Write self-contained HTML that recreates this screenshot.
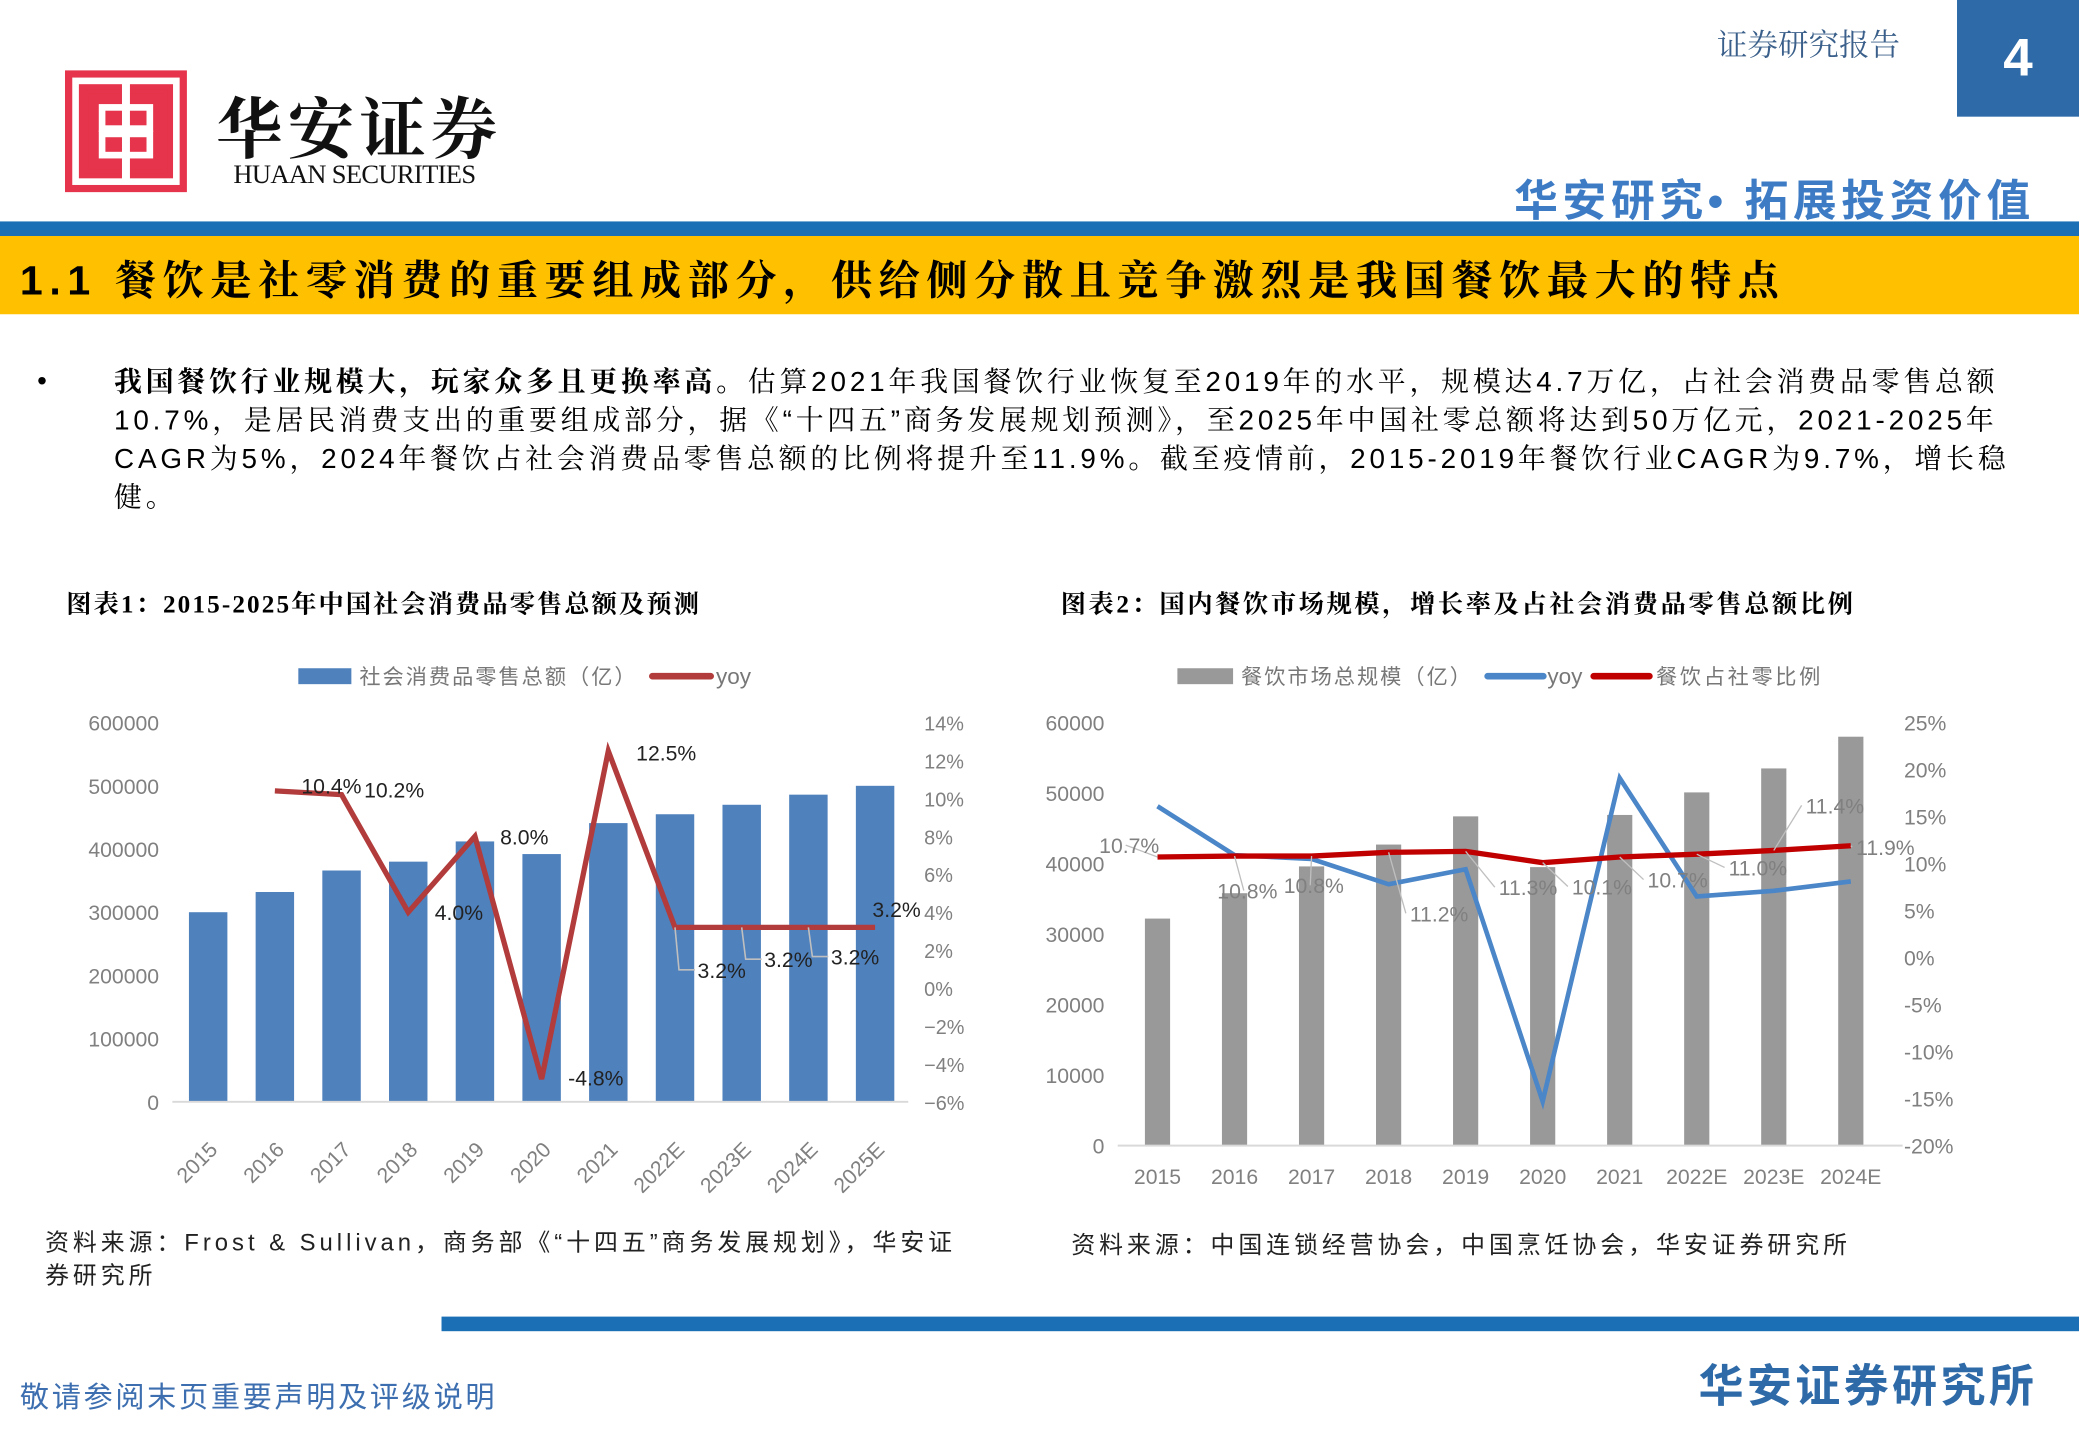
<!DOCTYPE html>
<html><head><meta charset="utf-8">
<style>
html,body{margin:0;padding:0;background:#fff;}
body{width:2079px;height:1439px;overflow:hidden;position:relative;}
#page{position:absolute;left:0;top:0;width:1568px;height:1085px;transform:scale(1.32589);transform-origin:0 0;font-family:"Liberation Sans","Noto Sans CJK SC",sans-serif;}
.abs{position:absolute;white-space:nowrap;}
.serif{font-family:"Liberation Serif","Noto Serif CJK SC",serif;}
</style></head><body>
<div id="page">
  <svg class="abs" style="left:49px;top:53px" width="92" height="92">
    <rect width="92" height="92" fill="#e5344b"/>
    <rect x="8" y="8" width="76" height="76" fill="none" stroke="#fff" stroke-width="5"/>
    <rect x="16" y="16" width="60" height="60" fill="none" stroke="#e5344b" stroke-width="3"/>
    <rect x="28" y="28" width="36" height="16" fill="none" stroke="#fff" stroke-width="5"/>
    <rect x="28" y="48" width="36" height="16" fill="none" stroke="#fff" stroke-width="5"/>
    <rect x="43" y="8" width="6" height="76" fill="#fff"/>
  </svg>
  <div class="abs serif" style="left:163px;top:58px;font-size:50px;font-weight:bold;letter-spacing:4px;color:#111">华安证券</div>
  <div class="abs serif" style="left:176px;top:121px;font-size:20px;color:#111;letter-spacing:-0.5px">HUAAN SECURITIES</div>
  <div class="abs serif" style="left:1295px;top:16px;font-size:23px;color:#3a5f8a">证券研究报告</div>
  <div class="abs" style="left:1476px;top:0;width:92px;height:88px;background:#2e6aa8;color:#fff;font-size:40px;font-weight:bold;text-align:center;line-height:88px">4</div>
  <div class="abs" style="left:1142px;top:125px;font-size:33px;font-weight:bold;color:#3d7bc4;letter-spacing:3.5px">华安研究• 拓展投资价值</div>
  <div class="abs" style="left:0;top:167px;width:1568px;height:11px;background:#1a6fb5"></div>
  <div class="abs" style="left:0;top:178px;width:1568px;height:59px;background:#ffc000"></div>
  <div class="abs" style="left:15px;top:186px;font-size:31px;font-weight:bold;color:#000;letter-spacing:5px;font-family:'Liberation Sans','Noto Serif CJK SC',serif">1.1 餐饮是社零消费的重要组成部分，供给侧分散且竞争激烈是我国餐饮最大的特点</div>
  <div class="abs" style="left:28px;top:276px;font-size:21px;color:#000">•</div>
  <div class="abs" style="left:86px;top:274px;font-size:21px;line-height:29px;color:#000;letter-spacing:2.9px;font-family:'Liberation Sans','Noto Serif CJK SC',serif"><b>我国餐饮行业规模大，玩家众多且更换率高。</b>估算2021年我国餐饮行业恢复至2019年的水平，规模达4.7万亿，占社会消费品零售总额<br>10.7%，是居民消费支出的重要组成部分，据《“十四五”商务发展规划预测》，至2025年中国社零总额将达到50万亿元，2021-2025年<br>CAGR为5%，2024年餐饮占社会消费品零售总额的比例将提升至11.9%。截至疫情前，2015-2019年餐饮行业CAGR为9.7%，增长稳<br>健。</div>

  <div class="abs serif" style="left:50px;top:441px;font-size:19px;font-weight:bold;color:#000;letter-spacing:1.6px">图表1：2015-2025年中国社会消费品零售总额及预测</div>
  <div class="abs serif" style="left:800px;top:441px;font-size:19px;font-weight:bold;color:#000;letter-spacing:2px">图表2：国内餐饮市场规模，增长率及占社会消费品零售总额比例</div>

  <svg id="c1" class="abs" style="left:0;top:0" width="780" height="900"></svg>
  <svg id="c2" class="abs" style="left:0;top:0" width="1568" height="900"></svg>

  <div class="abs" style="left:34px;top:925px;font-size:18px;line-height:25px;color:#222;letter-spacing:3px">资料来源：Frost &amp; Sullivan，商务部《“十四五”商务发展规划》，华安证<br>券研究所</div>
  <div class="abs" style="left:808px;top:925px;font-size:18px;color:#222;letter-spacing:3px">资料来源：中国连锁经营协会，中国烹饪协会，华安证券研究所</div>

  <div class="abs" style="left:333px;top:993px;width:1235px;height:11px;background:#1a6fb5"></div>
  <div class="abs" style="left:15px;top:1036px;font-size:22px;color:#3d6fb0;letter-spacing:2px">敬请参阅末页重要声明及评级说明</div>
  <div class="abs" style="left:1281px;top:1018px;font-size:34px;font-weight:bold;color:#2e6aa8;letter-spacing:2.5px">华安证券研究所</div>
</div>
<script>
const NS='http://www.w3.org/2000/svg';
function mk(p,tag,a,txt){const e=document.createElementNS(NS,tag);for(const k in a)e.setAttribute(k,a[k]);if(txt!==undefined)e.textContent=txt;p.appendChild(e);return e;}

// ---- chart 1 data ----
const c1Cats=['2015','2016','2017','2018','2019','2020','2021','2022E','2023E','2024E','2025E'];
const c1Retail=[300000,332000,366000,380000,412000,392000,441000,455000,470000,486000,500000];
const c1Yoy=[null,10.4,10.2,4.0,8.0,-4.8,12.5,3.2,3.2,3.2,3.2];
const c1LeftTicks=[0,100000,200000,300000,400000,500000,600000];
const c1RightTicks=[-6,-4,-2,0,2,4,6,8,10,12,14];
const c1RightLabels=['−6%','−4%','−2%','0%','2%','4%','6%','8%','10%','12%','14%'];

// ---- chart 2 data ----
const c2Cats=['2015','2016','2017','2018','2019','2020','2021','2022E','2023E','2024E'];
const c2Size=[32200,35800,39600,42700,46700,39500,46900,50100,53500,58000];
const c2Yoy=[16.1,10.9,10.5,7.8,9.4,-15.3,19.1,6.5,7.1,8.1];
const c2Share=[10.7,10.8,10.8,11.2,11.3,10.1,10.7,11.0,11.4,11.9];
const c2LeftTicks=[0,10000,20000,30000,40000,50000,60000];
const c2RightTicks=[-20,-15,-10,-5,0,5,10,15,20,25];

(function(){
  const s=document.getElementById('c1');
  const y0=831,y1=545,x0=157,dx=50.3;
  const yL=v=>y0-(v/600000)*(y0-y1);
  const yR=v=>y0-((v+6)/20)*(y0-y1);
  const xC=i=>x0+i*dx;
  let g=mk(s,'g',{});
  
  
  mk(g,'rect',{x:225,y:504,width:40,height:12,fill:'#4f81bd'});
  mk(g,'text',{x:271,y:516,'font-size':16,fill:'#777','letter-spacing':1.5},'社会消费品零售总额（亿）');
  mk(g,'line',{x1:492,y1:510,x2:536,y2:510,stroke:'#b23b3b','stroke-width':5,'stroke-linecap':'round'});
  mk(g,'text',{x:540,y:516,'font-size':17,fill:'#777'},'yoy');
  c1LeftTicks.forEach(v=>{const t=mk(s,'text',{x:120,y:yL(v)+6,'font-size':16,fill:'#808080','text-anchor':'end'},String(v));
    });
  c1RightTicks.forEach((v,i)=>{const t=mk(s,'text',{x:697,y:yR(v)+6,'font-size':15,fill:'#808080'},c1RightLabels[i]);
    });
  c1Retail.forEach((v,i)=>{const r=mk(s,'rect',{x:xC(i)-14.5,y:yL(v),width:29,height:y0-yL(v),fill:'#4f81bd'});
    });
  mk(s,'line',{x1:130,y1:y0,x2:685,y2:y0,stroke:'#d9d9d9','stroke-width':1.5});
  c1Cats.forEach((c,i)=>{const t=mk(s,'text',{x:xC(i)+8,y:868,'font-size':16,fill:'#808080','text-anchor':'end',transform:`rotate(-45 ${xC(i)+8} 868)`},c);
    });
  let pts=[];c1Yoy.forEach((v,i)=>{if(v!==null)pts.push(xC(i)+','+yR(v));});
  const pl=mk(s,'polyline',{points:pts.join(' '),fill:'none',stroke:'#b23b3b','stroke-width':4,'stroke-linejoin':'miter'});
  
  const off=[null,[20,2],[17,2],[20,6],[19,6],[20,5],[21,7],[0,38],[0,30],[0,28],[0,-8]];
  c1Yoy.forEach((v,i)=>{if(v===null)return;const y=yR(v)+off[i][1];
    let x=xC(i)+off[i][0];
    if(i>=7&&i<=9){mk(s,'polyline',{points:`${xC(i)},${yR(v)} ${xC(i)+3},${y-6} ${xC(i)+15},${y-6}`,fill:'none',stroke:'#bfbfbf','stroke-width':1.2});x=xC(i)+17;}
    if(i==10)x=xC(i)-2;
    const t=mk(s,'text',{x:x,y:y,'font-size':16,fill:'#222'},v.toFixed(1)+'%');
    });
})();

(function(){
  const s=document.getElementById('c2');
  const y0=864,y1=545,x0=873,dx=58.1;
  const yL=v=>y0-(v/60000)*(y0-y1);
  const yR=v=>y0-((v+20)/45)*(y0-y1);
  const xC=i=>x0+i*dx;
  let g=mk(s,'g',{});
  
  
  mk(g,'rect',{x:888,y:504,width:42,height:12,fill:'#999'});
  mk(g,'text',{x:936,y:516,'font-size':16,fill:'#777','letter-spacing':1.5},'餐饮市场总规模（亿）');
  mk(g,'line',{x1:1122,y1:510,x2:1164,y2:510,stroke:'#4a86c8','stroke-width':5,'stroke-linecap':'round'});
  mk(g,'text',{x:1167,y:516,'font-size':17,fill:'#777'},'yoy');
  mk(g,'line',{x1:1202,y1:510,x2:1244,y2:510,stroke:'#c00000','stroke-width':5,'stroke-linecap':'round'});
  mk(g,'text',{x:1249,y:516,'font-size':16,fill:'#777','letter-spacing':2},'餐饮占社零比例');
  c2LeftTicks.forEach(v=>{const t=mk(s,'text',{x:833,y:yL(v)+6,'font-size':16,fill:'#808080','text-anchor':'end'},String(v));
    });
  c2RightTicks.forEach(v=>{const t=mk(s,'text',{x:1436,y:yR(v)+6,'font-size':16,fill:'#808080'},v+'%');
    });
  c2Size.forEach((v,i)=>{const r=mk(s,'rect',{x:xC(i)-9.5,y:yL(v),width:19,height:y0-yL(v),fill:'#999'});
    });
  mk(s,'line',{x1:843,y1:y0,x2:1435,y2:y0,stroke:'#d9d9d9','stroke-width':1.5});
  c2Cats.forEach((c,i)=>{const t=mk(s,'text',{x:xC(i),y:893,'font-size':16,fill:'#808080','text-anchor':'middle'},c);
    });
  const py=mk(s,'polyline',{points:c2Yoy.map((v,i)=>xC(i)+','+yR(v)).join(' '),fill:'none',stroke:'#4a86c8','stroke-width':3.5});
  
  const pr=mk(s,'polyline',{points:c2Share.map((v,i)=>xC(i)+','+yR(v)).join(' '),fill:'none',stroke:'#c00000','stroke-width':4});
  
  const lo=[[-44,-3],[-13,32],[-21,28],[16,52],[25,33],[22,24],[21,23],[24,16],[24,-28],[4,7]];
  c2Share.forEach((v,i)=>{const px=xC(i),pyv=yR(v),x=px+lo[i][0],y=pyv+lo[i][1];
    const ex=lo[i][0]<0?x+20:x-3, ey=y-6;
    mk(s,'line',{x1:px,y1:pyv,x2:ex,y2:ey,stroke:'#bfbfbf','stroke-width':1});
    const t=mk(s,'text',{x:x,y:y,'font-size':16,fill:'#808080'},v.toFixed(1)+'%');
    });
})();
</script>
</body></html>
